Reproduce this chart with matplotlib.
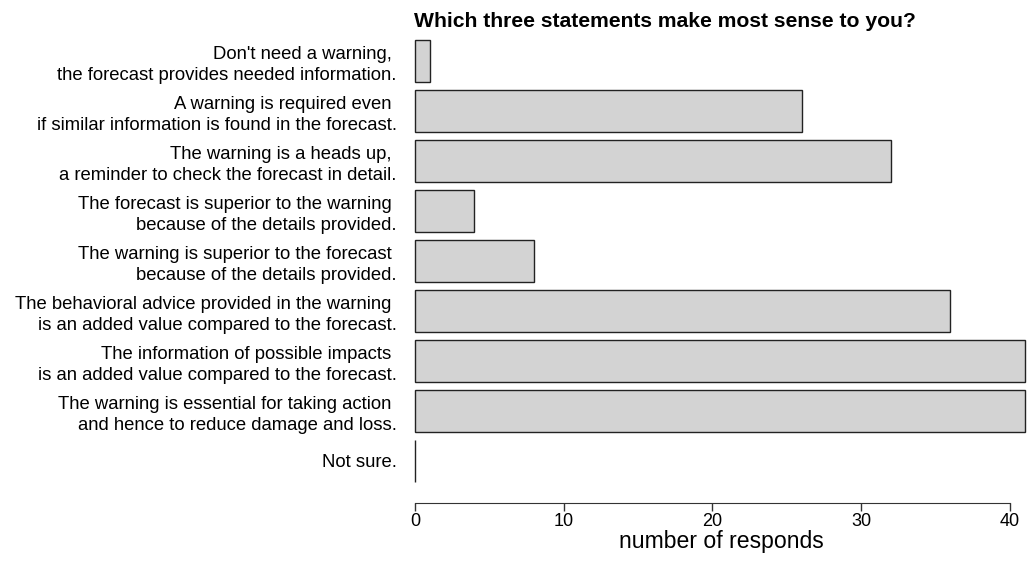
import numpy as np
import matplotlib.pyplot as plt

plt.rcParams['font.family'] = ['Liberation Sans', 'DejaVu Sans']

statements = [
    "Don't need a warning, \nthe forecast provides needed information.",
    "A warning is required even \nif similar information is found in the forecast.",
    "The warning is a heads up, \na reminder to check the forecast in detail.",
    "The forecast is superior to the warning \nbecause of the details provided.",
    "The warning is superior to the forecast \nbecause of the details provided.",
    "The behavioral advice provided in the warning \nis an added value compared to the forecast.",
    "The information of possible impacts \nis an added value compared to the forecast.",
    "The warning is essential for taking action \nand hence to reduce damage and loss.",
    "Not sure.",
]
responds = [1, 26, 32, 4, 8, 36, 41, 41, 0]
xticks = [0, 10, 20, 30, 40]

fig = plt.figure(figsize=(10.36, 5.64), dpi=100)
ax = fig.add_axes([0.3962, 0.1082, 0.6002, 0.828])

ypos = np.arange(len(statements))
ax.barh(ypos, responds, height=0.84, color='#d3d3d3', edgecolor='#222222',
        linewidth=1.0)

ax.set_xlim(-0.3, 41.5)
ax.set_ylim(8.84, -0.5)

ax.set_yticks(ypos)
ax.set_yticklabels(statements, fontsize=13.3, ha='right', linespacing=1.32)
ax.tick_params(axis='y', length=0, pad=10)

ax.set_xticks(xticks)
ax.tick_params(axis='x', labelsize=13, length=6, width=1, color='#333333', pad=1)
ax.set_xlabel('number of responds', fontsize=16.6, labelpad=0)

for side in ['top', 'right', 'left']:
    ax.spines[side].set_visible(False)
ax.spines['bottom'].set_bounds(0, 40)
ax.spines['bottom'].set_color('#333333')

fig.text(0.642, 0.962, 'Which three statements make most sense to you?',
         fontsize=15.2, fontweight='bold', ha='center', va='center')

fig.savefig('out.png', dpi=100)
